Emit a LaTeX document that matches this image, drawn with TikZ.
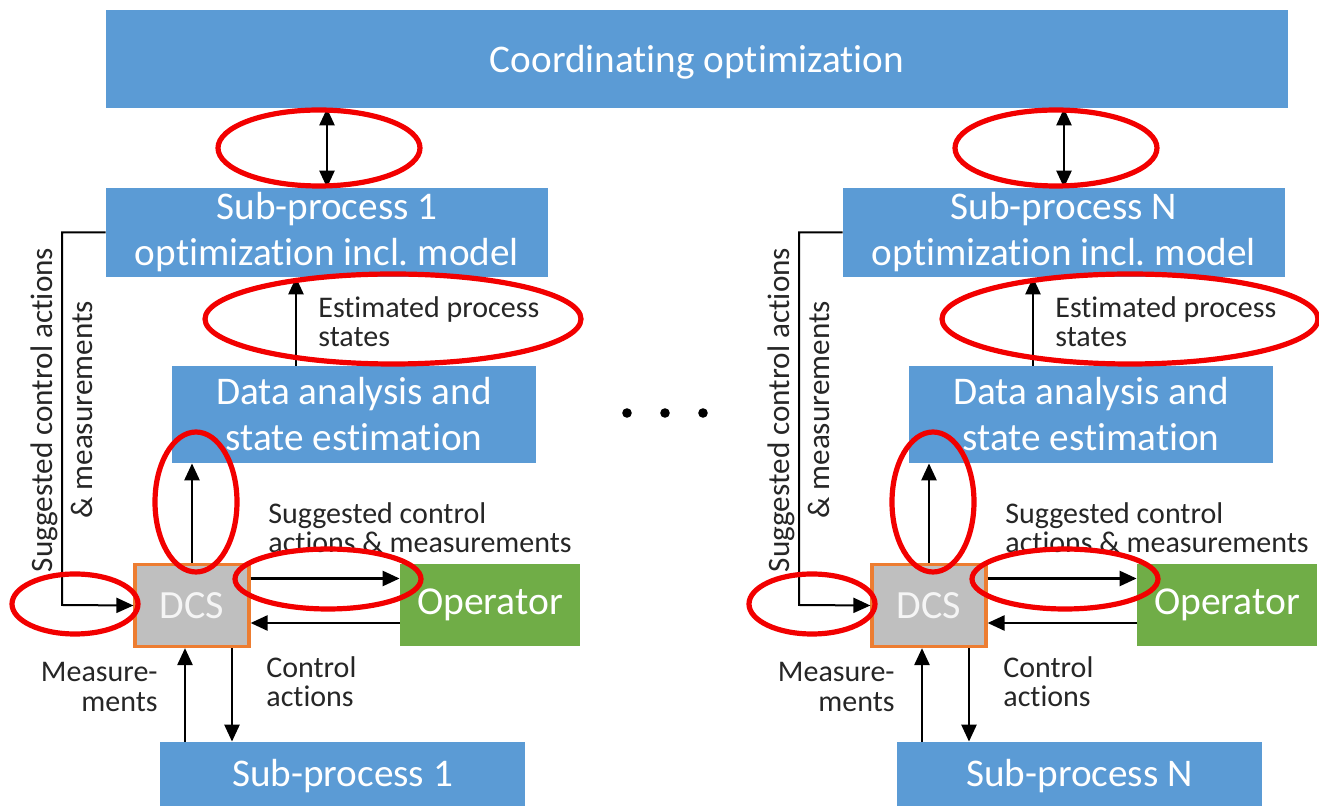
\documentclass[tikz,border=0pt]{standalone}
\usepackage{fontspec}
\setmainfont{Carlito}[Ligatures=NoCommon]
\usetikzlibrary{arrows.meta, calc}
\definecolor{procblue}{HTML}{5B9BD5}
\definecolor{opgreen}{HTML}{70AD47}
\definecolor{dcsgray}{HTML}{BFBFBF}
\definecolor{dcsorange}{HTML}{ED7D31}
\definecolor{ringred}{HTML}{F20000}
\lineskiplimit=-100pt
\begin{document}
\begin{tikzpicture}[x={(0.5pt,0pt)}, y={(0pt,-0.5pt)},
    box/.style={fill=procblue, text=white, inner sep=0pt, align=center,
      font=\fontsize{19.6}{23}\selectfont},
    dcsbox/.style={fill=dcsgray, draw=dcsorange, line width=1.6pt, text=white!92!gray,
      inner sep=0pt, font=\fontsize{20}{23}\selectfont},
    opbox/.style={fill=opgreen, text=white, inner sep=0pt, font=\fontsize{19.8}{23}\selectfont},
    lbl/.style={text=black!85, inner sep=0pt, font=\fontsize{15}{14.6}\selectfont},
    arr/.style={-{Triangle[length=8.5pt,width=7.5pt]}, line width=1.3pt},
    biarr/.style={{Triangle[length=8.5pt,width=7.5pt]}-{Triangle[length=8.5pt,width=7.5pt]}, line width=1.3pt},
    ring/.style={draw=ringred, line width=2.6pt}]
  \useasboundingbox (0,0) rectangle (1319,806);
  \clip (0,0) rectangle (1319,806);

  % top level
  \node[box, minimum width=591pt, minimum height=49pt, text depth=0pt] (coord) at (697,59)
    {Coordinating optimization};

  % the two sub-process columns (1 and N), same layout shifted by \dx
  \foreach \n/\dx in {1/0, N/737} {
    \node[box, minimum width=221pt, minimum height=44.5pt] (opt\n) at (327+\dx,232.5)
      {Sub-process \n\\optimization incl.\ model};
    \node[box, minimum width=182pt, minimum height=48.5pt] (data\n) at (354+\dx,414.5)
      {Data analysis and\\state estimation};
    \node[dcsbox, minimum width=57pt, minimum height=41pt] (dcs\n) at (192+\dx,605.5) {DCS};
    \node[opbox, minimum width=90pt, minimum height=41pt] (op\n) at (490+\dx,605) {Operator};
    \node[box, minimum width=182.5pt, minimum height=34pt] (proc\n) at (342.5+\dx,776) {Sub-process \n};
    \coordinate (fb\n) at (62+\dx,605);

    % connectors
    \draw[biarr] (opt\n.north) -- (opt\n.north |- coord.south);
    \draw[arr] ([xshift=-29pt]data\n.north) -- ([xshift=-29pt]data\n.north |- opt\n.south);
    \draw[arr] (dcs\n.north) -- (dcs\n.north |- data\n.south);
    \draw[arr] ([yshift=13.5pt]dcs\n.east) -- ([yshift=13.5pt]dcs\n.east -| op\n.west);
    \draw[arr] ([yshift=-9pt]op\n.west) -- ([yshift=-9pt]op\n.west -| dcs\n.east);
    \draw[arr, line width=1pt] (opt\n.west) -| (fb\n) -- (dcs\n.west);
    \draw[arr] ([xshift=-3.5pt]dcs\n.south |- proc\n.north) -- ([xshift=-3.5pt]dcs\n.south);
    \draw[arr] ([xshift=20pt]dcs\n.south) -- ([xshift=20pt]dcs\n.south |- proc\n.north);

    % labels
    \node[lbl, anchor=west, align=left] (est\n) at (318+\dx,322) {Estimated process\\states};
    \node[lbl, anchor=west, align=left] (sug\n) at (268+\dx,528) {Suggested control\\actions \& measurements};
    \node[lbl, anchor=east, align=right] (meas\n) at (158+\dx,687) {Measure-\\ments};
    \node[lbl, anchor=west, align=left] (ctrl\n) at (266+\dx,682) {Control\\actions};
    \node[lbl, rotate=90, align=center, font=\fontsize{15.6}{20}\selectfont] (side\n) at (62+\dx,410)
      {Suggested control actions\\\& measurements};

    % red marks
    \draw[ring] (319+\dx,148) ellipse [x radius=50.5pt, y radius=19pt];
    \draw[ring] (393+\dx,319) ellipse [x radius=94pt, y radius=22.5pt];
    \draw[ring] (196+\dx,502) ellipse [x radius=20.5pt, y radius=35pt];
    \draw[ring] (75+\dx,604) ellipse [x radius=31.5pt, y radius=15pt];
    \draw[ring] (328+\dx,579) ellipse [x radius=46.5pt, y radius=15pt];
  }

  % dots between the columns
  \foreach \x in {627,665,703}
    \fill (\x,413) circle (2.4pt);
\end{tikzpicture}
\end{document}
